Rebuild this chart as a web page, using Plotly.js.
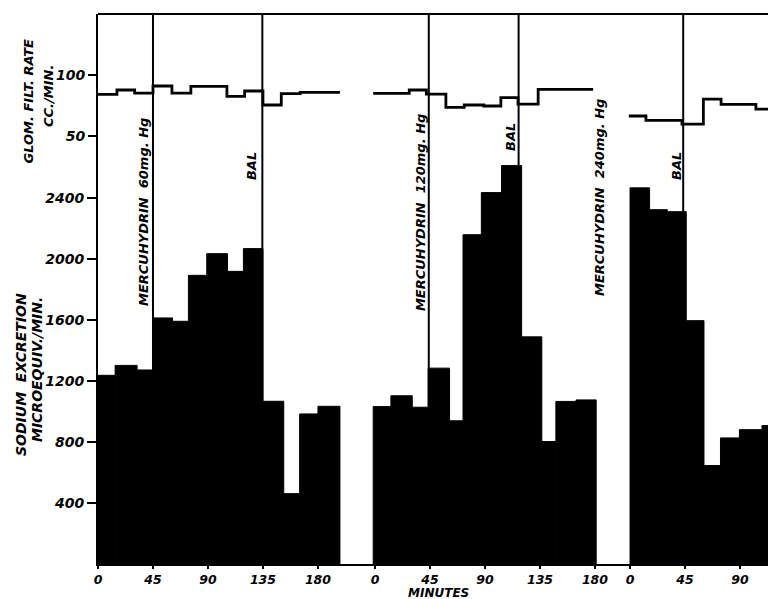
<!DOCTYPE html>
<html><head><meta charset="utf-8">
<script src="https://cdn.plot.ly/plotly-3.0.1.min.js"></script>
<style>html,body{margin:0;padding:0;background:#fff;} #chart{width:768px;height:599px;}</style>
</head><body><div id="chart"></div>
<script>
// Origin of each experiment panel on the shared minutes axis
const panelOffsets = [0, 226.7, 435.4];

// Sodium excretion (microequiv./min) per collection period: start minute, value
const p1Start = [0, 14, 32, 45, 61, 74, 89, 106, 119, 135, 152, 165, 180];
const p1End = 198;
const p1Sodium = [1236, 1301, 1271, 1612, 1590, 1891, 2033, 1917, 2066, 1066, 461, 983, 1033];

const p2Start = [-1.5, 13, 30.5, 43.5, 61, 72, 87, 103.5, 120, 136.5, 148, 164.5];
const p2End = 181;
const p2Sodium = [1031, 1102, 1027, 1283, 938, 2157, 2433, 2610, 1488, 802, 1065, 1075];

const p3Start = [0, 16, 30.5, 46, 60.5, 74, 89.5, 108];
const p3End = 122;
const p3Sodium = [2464, 2321, 2308, 1594, 645, 826, 880, 907];

// Glomerular filtration rate (cc./min) steps: start minute, value
const p1GfrStart = [0, 15.5, 30, 45, 60.5, 76, 105.5, 120, 135, 150, 165.5];
const p1GfrEnd = 198;
const p1Gfr = [84.2, 87.7, 85.2, 91, 85.2, 90.6, 82.5, 86.9, 75.4, 84.7, 85.7];

const p2GfrStart = [-1.5, 28, 42, 58, 73, 89, 103, 117, 133.5];
const p2GfrEnd = 178.5;
const p2Gfr = [85, 87.7, 84.4, 73.5, 75.4, 74.6, 81.4, 76.2, 88.3];

const p3GfrStart = [-1, 13, 42.5, 60, 74.5, 103];
const p3GfrEnd = 122;
const p3Gfr = [66.4, 62.8, 59.8, 80.3, 76, 72.1];

// Drug administration times (minutes within each panel)
const p1Events = [45, 134.5];
const p2Events = [44, 117.5];
const p3Events = [43.5];

// Axis ticks
const panelTicks = [[0, 45, 90, 135, 180], [0, 45, 90, 135, 180], [0, 45, 90]];
const sodiumTicks = [400, 800, 1200, 1600, 2000, 2400];
const gfrTicks = [50, 100];

const FONT = 'DejaVu Sans';
const boldItal = (size) => ({family: FONT, size: size, color: '#000', weight: 'bold', style: 'italic'});

const panels = [
  {start: p1Start, end: p1End, na: p1Sodium, gs: p1GfrStart, ge: p1GfrEnd, g: p1Gfr, ev: p1Events},
  {start: p2Start, end: p2End, na: p2Sodium, gs: p2GfrStart, ge: p2GfrEnd, g: p2Gfr, ev: p2Events},
  {start: p3Start, end: p3End, na: p3Sodium, gs: p3GfrStart, ge: p3GfrEnd, g: p3Gfr, ev: p3Events}
];

const traces = [];
const shapes = [];
panels.forEach((p, i) => {
  const off = panelOffsets[i];
  const xs = p.start.map(s => s + off);
  const widths = p.start.map((s, k) => (k + 1 < p.start.length ? p.start[k + 1] : p.end) - s);
  traces.push({
    type: 'bar', x: xs, y: p.na, width: widths, offset: 0,
    marker: {color: '#000', line: {color: '#000', width: 1}},
    yaxis: 'y', hoverinfo: 'skip'
  });
  const gx = p.gs.map(s => s + off).concat([p.ge + off]);
  const gy = p.g.concat([p.g[p.g.length - 1]]);
  traces.push({
    type: 'scatter', mode: 'lines', x: gx, y: gy, yaxis: 'y2',
    line: {color: '#000', width: 2.8, shape: 'hv'}, hoverinfo: 'skip'
  });
  p.ev.forEach(t => {
    shapes.push({type: 'line', xref: 'x', yref: 'paper', x0: t + off, x1: t + off, y0: 0, y1: 1,
      line: {color: '#000', width: 2}, layer: 'above'});
  });
});
shapes.push({type: 'line', xref: 'paper', yref: 'paper', x0: 0, x1: 1, y0: 1, y1: 1,
  line: {color: '#000', width: 2}});

const tickvals = [], ticktext = [];
panelTicks.forEach((arr, i) => arr.forEach(t => { tickvals.push(t + panelOffsets[i]); ticktext.push(String(t)); }));

const ann = (text, x, y, size, angle) => ({text: text, xref: 'paper', yref: 'paper', x: x, y: y,
  showarrow: false, textangle: angle, font: boldItal(size), xanchor: 'center', yanchor: 'middle'});

const annotations = [
  ann('MERCUHYDRIN  60mg. Hg', 0.0672, 0.64, 13, -90),
  ann('BAL', 0.2284, 0.7236, 13, -90),
  ann('MERCUHYDRIN  120mg. Hg', 0.4806, 0.638, 13, -90),
  ann('BAL', 0.6164, 0.7764, 13, -90),
  ann('MERCUHYDRIN  240mg. Hg', 0.7493, 0.6655, 13, -90),
  ann('BAL', 0.8627, 0.7236, 13, -90),
  ann('GLOM. FILT. RATE', -0.1052, 0.8418, 13, -90),
  ann('CC./MIN.', -0.0746, 0.8509, 13, -90),
  ann('SODIUM  EXCRETION', -0.1149, 0.3436, 14, -90),
  ann('MICROEQUIV./MIN.', -0.0910, 0.3527, 14, -90),
  ann('MINUTES', 0.5075, -0.0535, 12, 0)
];

const axisCommon = {
  showgrid: false, zeroline: false, ticks: 'outside', tickwidth: 2, tickcolor: '#000',
  tickfont: boldItal(14), fixedrange: true
};

const layout = {
  width: 768, height: 599,
  margin: {l: 98, r: 0, t: 14, b: 35},
  paper_bgcolor: '#fff', plot_bgcolor: '#fff',
  showlegend: false,
  xaxis: Object.assign({}, axisCommon, {
    range: [0, 548.3], tickmode: 'array', tickvals: tickvals, ticktext: ticktext,
    ticklen: 3, showline: true, linewidth: 2, linecolor: '#000',
    tickfont: boldItal(12.5)
  }),
  yaxis: Object.assign({}, axisCommon, {
    range: [0, 3603], tickmode: 'array', tickvals: sodiumTicks,
    ticklen: 9, showline: true, linewidth: 2, linecolor: '#000'
  }),
  yaxis2: Object.assign({}, axisCommon, {
    overlaying: 'y', side: 'left', range: [-300.8, 150], tickmode: 'array', tickvals: gfrTicks,
    ticklen: 9, showline: false
  }),
  shapes: shapes,
  annotations: annotations
};

Plotly.newPlot('chart', traces, layout, {displayModeBar: false, staticPlot: true});
</script>
</body></html>
